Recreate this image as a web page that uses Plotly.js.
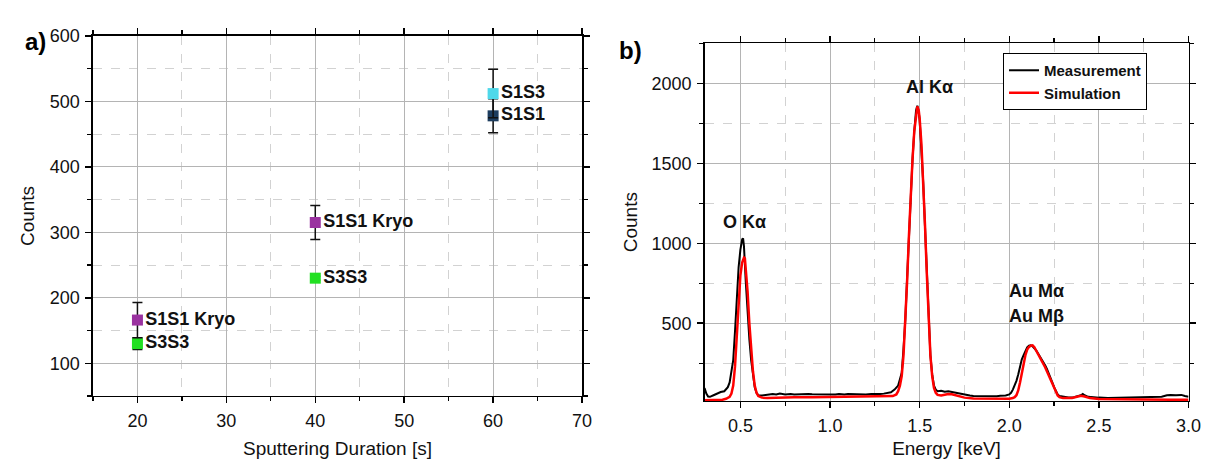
<!DOCTYPE html>
<html>
<head>
<meta charset="utf-8">
<script src="https://cdn.plot.ly/plotly-3.0.1.min.js"></script>
<style>html,body{margin:0;padding:0;background:#fff;}#chart{width:1206px;height:459px;}</style>
</head>
<body>
<div id="chart"></div>
<script>
// ---- Panel a) data ----
const durS1S3 = [60];
const cntS1S3 = [512];
const errS1S3 = [37];
const lblS1S3 = ['S1S3'];

const durS1S1 = [60];
const cntS1S1 = [478];
const errS1S1 = [26];
const lblS1S1 = ['S1S1'];

const durKryo = [20, 40];
const cntKryo = [166, 315];
const errKryo = [27, 26];
const lblKryo = ['S1S1 Kryo', 'S1S1 Kryo'];

const durS3S3 = [20, 40];
const cntS3S3 = [130, 230];
const errS3S3 = [9, 3];
const lblS3S3 = ['S3S3', 'S3S3'];

// ---- Panel b) data ----
const energyMeas = [0.30,0.31,0.32,0.33,0.35,0.37,0.39,0.41,0.42,0.43,0.44,0.45,0.46,0.47,0.48,0.49,0.50,0.51,0.515,0.52,0.53,0.54,0.55,0.56,0.57,0.58,0.59,0.60,0.62,0.65,0.68,0.70,0.72,0.75,0.78,0.80,0.83,0.85,0.88,0.90,0.93,0.95,0.98,1.00,1.03,1.05,1.08,1.10,1.13,1.15,1.18,1.20,1.23,1.25,1.28,1.30,1.32,1.34,1.36,1.38,1.39,1.40,1.41,1.42,1.43,1.44,1.45,1.46,1.47,1.48,1.487,1.495,1.50,1.51,1.52,1.53,1.54,1.55,1.56,1.57,1.58,1.59,1.60,1.62,1.64,1.66,1.68,1.70,1.72,1.75,1.78,1.80,1.83,1.85,1.88,1.90,1.93,1.95,1.98,2.00,2.01,2.02,2.03,2.04,2.05,2.06,2.07,2.08,2.09,2.10,2.11,2.12,2.13,2.14,2.15,2.16,2.17,2.18,2.19,2.20,2.21,2.22,2.23,2.24,2.25,2.26,2.27,2.28,2.30,2.33,2.36,2.38,2.40,2.41,2.42,2.44,2.47,2.50,2.55,2.60,2.65,2.70,2.75,2.78,2.80,2.85,2.88,2.90,2.93,2.96,2.98,3.00];
const countsMeas = [95,60,42,40,50,62,70,75,85,100,130,190,270,450,690,850,960,1025,1030,980,760,560,400,270,170,100,65,50,48,55,58,54,60,55,58,54,57,55,58,56,55,58,54,57,55,58,54,57,55,58,56,55,58,56,57,60,62,68,85,110,150,190,340,520,780,1050,1300,1520,1700,1830,1860,1820,1770,1600,1380,1100,800,480,300,180,110,85,75,78,72,75,70,66,60,52,48,45,44,46,42,44,43,46,48,55,65,85,110,140,180,230,275,300,330,350,360,362,355,345,330,312,295,275,258,238,215,190,160,130,100,75,55,45,40,36,38,42,50,58,50,40,36,35,33,34,33,35,34,38,35,40,50,52,50,52,45,40];

const energySim = [0.30,0.35,0.40,0.42,0.44,0.45,0.46,0.47,0.48,0.49,0.50,0.51,0.52,0.525,0.53,0.54,0.55,0.56,0.57,0.58,0.59,0.60,0.62,0.65,0.70,0.80,0.90,1.00,1.10,1.20,1.30,1.35,1.37,1.38,1.39,1.40,1.41,1.42,1.43,1.44,1.45,1.46,1.47,1.48,1.487,1.495,1.50,1.51,1.52,1.53,1.54,1.55,1.56,1.57,1.58,1.59,1.60,1.62,1.64,1.66,1.68,1.70,1.72,1.75,1.80,1.90,2.00,2.02,2.03,2.04,2.05,2.06,2.07,2.08,2.09,2.10,2.11,2.12,2.13,2.14,2.15,2.16,2.17,2.18,2.19,2.20,2.21,2.22,2.23,2.24,2.25,2.26,2.27,2.28,2.30,2.35,2.38,2.40,2.42,2.45,2.50,2.60,2.70,2.80,2.90,3.00];
const countsSim = [18,18,22,28,40,60,110,230,450,650,800,880,910,905,850,700,500,330,200,110,65,45,35,33,35,37,38,39,40,40,41,45,55,75,110,170,300,500,760,1040,1300,1520,1700,1820,1855,1830,1780,1620,1400,1110,810,500,300,170,95,65,52,48,52,58,56,50,42,35,30,28,28,32,38,50,80,130,190,250,300,335,352,360,362,350,330,312,290,270,248,225,200,175,150,120,90,65,48,38,32,33,40,46,42,32,27,25,24,23,22,22];

const seriesNames = ['Measurement', 'Simulation'];
const peakLabels = ['O Kα', 'Al Kα', 'Au Mα', 'Au Mβ'];

const FONT = '"Liberation Sans", Arial, sans-serif';
const MAJ_GRID = '#b4b4b4';
const MIN_GRID = '#d2d2d2';

function pt(x, y, err, txt, color) {
  return {
    type: 'scatter', mode: 'markers+text', x: x, y: y, text: txt,
    textposition: 'middle right',
    textfont: {family: FONT, size: 18, color: '#111', weight: 'bold'},
    marker: {symbol: 'square', size: 11, color: color},
    error_y: {type: 'data', array: err, visible: true, color: '#111', thickness: 1.5, width: 5},
    xaxis: 'x', yaxis: 'y', showlegend: false, cliponaxis: false
  };
}

const traces = [
  pt(durS3S3, cntS3S3, errS3S3, lblS3S3, '#22e022'),
  pt(durKryo, cntKryo, errKryo, lblKryo, '#9a32a0'),
  pt(durS1S1, cntS1S1, errS1S1, lblS1S1, '#1d3d5f'),
  pt(durS1S3, cntS1S3, errS1S3, lblS1S3, '#4fd8ea'),
  {type: 'scatter', mode: 'lines', name: seriesNames[0], x: energyMeas, y: countsMeas,
   line: {color: '#000', width: 2}, xaxis: 'x2', yaxis: 'y2'},
  {type: 'scatter', mode: 'lines', name: seriesNames[1], x: energySim, y: countsSim,
   line: {color: '#ff0000', width: 2.5}, xaxis: 'x2', yaxis: 'y2'}
];

function ax(extra) {
  return Object.assign({
    showline: true, linecolor: '#000', linewidth: 1.5, mirror: 'ticks',
    ticks: 'outside', ticklen: 6, tickwidth: 1.5, tickcolor: '#000',
    showgrid: true, gridcolor: MAJ_GRID, gridwidth: 1, zeroline: false,
    tickfont: {family: FONT, size: 18, color: '#111'},
    ticklabelstandoff: 2,
    fixedrange: true
  }, extra);
}
function minor(d) {
  return {dtick: d, ticks: 'outside', ticklen: 4, tickwidth: 1.2, tickcolor: '#000',
          showgrid: true, gridcolor: MIN_GRID, griddash: 'dash', gridwidth: 1};
}
const titleFont = {family: FONT, size: 19, color: '#111'};

const layout = {
  width: 1206, height: 459,
  margin: {l: 0, r: 0, t: 0, b: 0},
  paper_bgcolor: '#fff', plot_bgcolor: '#fff',
  font: {family: FONT, color: '#111'},
  xaxis: ax({domain: [0.0771, 0.4826], anchor: 'y', range: [15, 70], tick0: 0, dtick: 10,
             minor: minor(5), title: {text: 'Sputtering Duration [s]', font: titleFont, standoff: 12}}),
  yaxis: ax({domain: [0.1373, 0.9216], anchor: 'x', range: [50, 600], tick0: 0, dtick: 100,
             minor: minor(50), title: {text: 'Counts', font: titleFont, standoff: 10}}),
  xaxis2: ax({domain: [0.5842, 0.9855], anchor: 'y2', range: [0.3, 3.0], tick0: 0, dtick: 0.5, tickformat: '.1f',
              minor: minor(0.25), title: {text: 'Energy [keV]', font: titleFont, standoff: 8}}),
  yaxis2: ax({domain: [0.1264, 0.9057], anchor: 'x2', range: [14, 2250], tick0: 0, dtick: 500,
              minor: minor(250), title: {text: 'Counts', font: titleFont, standoff: 8}}),
  showlegend: true,
  legend: {x: 0.8317, y: 0.8845, xanchor: 'left', yanchor: 'top', bgcolor: '#fff',
           bordercolor: '#000', borderwidth: 1, tracegroupgap: 0, itemwidth: 30,
           font: {family: FONT, size: 15, color: '#111', weight: 'bold'}},
  annotations: [
    {xref: 'paper', yref: 'paper', x: 23/1206, y: 1 - 26/459, text: '<b>a)</b>', showarrow: false,
     font: {family: FONT, size: 24, color: '#000'}},
    {xref: 'paper', yref: 'paper', x: 630/1206, y: 1 - 35/459, text: '<b>b)</b>', showarrow: false,
     font: {family: FONT, size: 24, color: '#000'}},
    {xref: 'x2', yref: 'y2', x: 0.524, y: 1133, text: '<b>' + peakLabels[0] + '</b>', showarrow: false,
     font: {family: FONT, size: 18, color: '#111'}},
    {xref: 'x2', yref: 'y2', x: 1.553, y: 1977, text: '<b>' + peakLabels[1] + '</b>', showarrow: false,
     font: {family: FONT, size: 18, color: '#111'}},
    {xref: 'x2', yref: 'y2', x: 1.988, y: 702, xanchor: 'left', text: '<b>' + peakLabels[2] + '</b>', showarrow: false,
     font: {family: FONT, size: 18, color: '#111'}},
    {xref: 'x2', yref: 'y2', x: 1.988, y: 546, xanchor: 'left', text: '<b>' + peakLabels[3] + '</b>', showarrow: false,
     font: {family: FONT, size: 18, color: '#111'}}
  ]
};

Plotly.newPlot('chart', traces, layout, {displayModeBar: false, staticPlot: true});
</script>
</body>
</html>
